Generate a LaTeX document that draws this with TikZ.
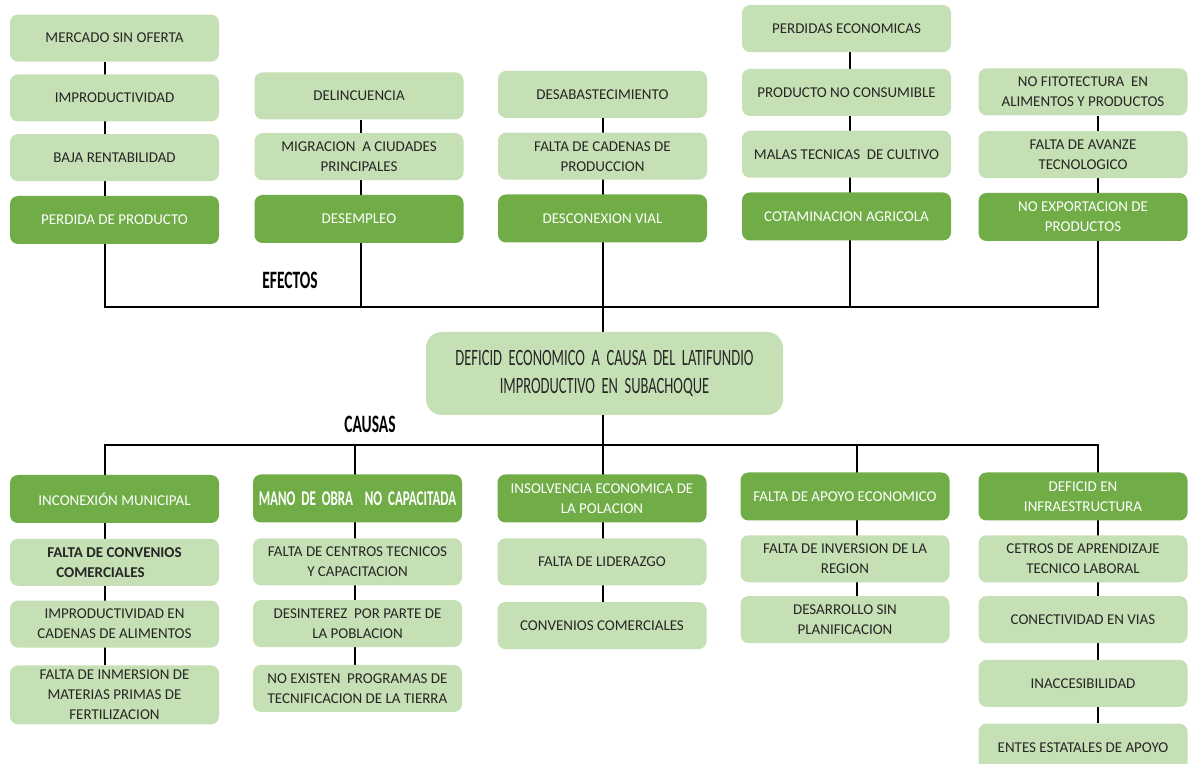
\documentclass[tikz,border=0pt]{standalone}
\usepackage{fontspec}
\setmainfont{Carlito}
\newfontfamily\condfont[FakeStretch=0.62,WordSpace=2]{Carlito}
\usetikzlibrary{positioning}
\usetikzlibrary{backgrounds}
\definecolor{hojaclara}{HTML}{C5E0B4}
\definecolor{hojaoscura}{HTML}{70AD47}
\definecolor{tinta}{HTML}{262626}

\begin{document}
\begin{tikzpicture}
    [x=0.5pt, y=-0.5pt,
     efclaro/.style={rectangle, rounded corners=4pt, fill=hojaclara, text=tinta, minimum width=104.5pt, minimum height=23.5pt, inner xsep=2pt, inner ysep=1pt, align=center, font=\fontsize{7.5}{10}\selectfont},
     efoscuro/.style={efclaro, fill=hojaoscura, text=white, minimum height=24pt},
     problema/.style={efclaro, rounded corners=8pt, minimum width=178.5pt, minimum height=41.5pt, font=\condfont\fontsize{11.7}{14}\selectfont},
     titulo/.style={font=\condfont\bfseries\fontsize{12.5}{14}\selectfont, text=black},
     rama/.style={line width=1pt, black}]

    \useasboundingbox (0,0) rectangle (1189,764);

    % efectos
    \node [efoscuro] (ef1) at (114.5,220) {PERDIDA DE PRODUCTO};
    \node [efclaro, above=7pt of ef1] (ef1c) {BAJA RENTABILIDAD};
    \node [efclaro, above=6pt of ef1c] (ef1b) {IMPRODUCTIVIDAD};
    \node [efclaro, above=6pt of ef1b] (ef1a) {MERCADO SIN OFERTA};

    \node [efoscuro] (ef2) at (359,219) {DESEMPLEO};
    \node [efclaro, above=7pt of ef2] (ef2b) {MIGRACION~ A CIUDADES\\PRINCIPALES};
    \node [efclaro, above=6.5pt of ef2b] (ef2a) {DELINCUENCIA};

    \node [efoscuro] (ef3) at (602.5,218.5) {DESCONEXION VIAL};
    \node [efclaro, above=7pt of ef3] (ef3b) {FALTA DE CADENAS DE\\PRODUCCION};
    \node [efclaro, above=7pt of ef3b] (ef3a) {DESABASTECIMIENTO};

    \node [efoscuro] (ef4) at (846.5,216.5) {COTAMINACION AGRICOLA};
    \node [efclaro, above=7pt of ef4] (ef4c) {MALAS TECNICAS~ DE CULTIVO};
    \node [efclaro, above=7pt of ef4c] (ef4b) {PRODUCTO NO CONSUMIBLE};
    \node [efclaro, above=8pt of ef4b] (ef4a) {PERDIDAS ECONOMICAS};

    \node [efoscuro] (ef5) at (1083,217) {NO EXPORTACION DE\\PRODUCTOS};
    \node [efclaro, above=7pt of ef5] (ef5b) {FALTA DE AVANZE\\TECNOLOGICO};
    \node [efclaro, above=7.5pt of ef5b] (ef5a) {NO FITOTECTURA~ EN\\ALIMENTOS Y PRODUCTOS};

    % problema central
    \node [problema] (def) at (604.5,373.5) {DEFICID ECONOMICO A CAUSA DEL LATIFUNDIO\\IMPRODUCTIVO EN SUBACHOQUE};

    % causas
    \node [efoscuro] (ca1) at (114.5,499) {INCONEXIÓN MUNICIPAL};
    \node [efclaro, below=7.5pt of ca1, font=\bfseries\fontsize{7.5}{10}\selectfont] (ca1b) {FALTA DE CONVENIOS\\COMERCIALES\hspace*{14pt}};
    \node [efclaro, below=7pt of ca1b] (ca1c) {IMPRODUCTIVIDAD EN\\CADENAS DE ALIMENTOS};
    \node [efclaro, below=8.5pt of ca1c, minimum height=29.5pt] (ca1d) {FALTA DE INMERSION DE\\MATERIAS PRIMAS DE\\FERTILIZACION};

    \node [efoscuro, font=\condfont\bfseries\fontsize{10.5}{13}\selectfont] (ca2) at (357.5,498.5) {MANO DE OBRA~ NO CAPACITADA};
    \node [efclaro, below=7.5pt of ca2] (ca2b) {FALTA DE CENTROS TECNICOS\\Y CAPACITACION};
    \node [efclaro, below=7pt of ca2b] (ca2c) {DESINTEREZ~ POR PARTE DE\\LA POBLACION};
    \node [efclaro, below=8.5pt of ca2c] (ca2d) {NO EXISTEN~ PROGRAMAS DE\\TECNIFICACION DE LA TIERRA};

    \node [efoscuro] (ca3) at (602,498.5) {INSOLVENCIA ECONOMICA DE\\LA POLACION};
    \node [efclaro, below=7.5pt of ca3] (ca3b) {FALTA DE LIDERAZGO};
    \node [efclaro, below=8pt of ca3b] (ca3c) {CONVENIOS COMERCIALES};

    \node [efoscuro] (ca4) at (845,496.5) {FALTA DE APOYO ECONOMICO};
    \node [efclaro, below=7pt of ca4] (ca4b) {FALTA DE INVERSION DE LA\\REGION};
    \node [efclaro, below=6.5pt of ca4b] (ca4c) {DESARROLLO SIN\\PLANIFICACION};

    \node [efoscuro] (ca5) at (1083,496.5) {DEFICID EN\\INFRAESTRUCTURA};
    \node [efclaro, below=7pt of ca5] (ca5b) {CETROS DE APRENDIZAJE\\TECNICO LABORAL};
    \node [efclaro, below=6.5pt of ca5b] (ca5c) {CONECTIVIDAD EN VIAS};
    \node [efclaro, below=8pt of ca5c] (ca5d) {INACCESIBILIDAD};
    \node [efclaro, below=8pt of ca5d] (ca5e) {ENTES ESTATALES DE APOYO};

    \node [titulo] (efectos) at (290,280) {EFECTOS};
    \node [titulo] (causas) at (370,424) {CAUSAS};

    % ramas
    \coordinate (e1) at (105,307);
    \coordinate (e2) at (361,307);
    \coordinate (e3) at (602.5,307);
    \coordinate (e4) at (850,307);
    \coordinate (e5) at (1098,307);
    \coordinate (c1) at (105,445);
    \coordinate (c2) at (355,445);
    \coordinate (c3) at (602.5,445);
    \coordinate (c4) at (857,445);
    \coordinate (c5) at (1098,445);

    \begin{scope}[on background layer]
    \fill [white] (0,0) rectangle (1189,764);
    \draw [rama] (ef1a.south -| e1) -- (e1) -- (e5) -- (ef5a.south -| e5);
    \draw [rama] (ef2a.south -| e2) -- (e2);
    \draw [rama] (ef3a.south -| e3) -- (def.north -| e3);
    \draw [rama] (ef4a.south -| e4) -- (e4);
    \draw [rama] (ca1d.north -| c1) -- (c1) -- (c5) -- (ca5e.north -| c5);
    \draw [rama] (c2) -- (ca2d.north -| c2);
    \draw [rama] (def.south -| c3) -- (ca3c.north -| c3);
    \draw [rama] (c4) -- (ca4c.north -| c4);
    \end{scope}
\end{tikzpicture}
\end{document}
